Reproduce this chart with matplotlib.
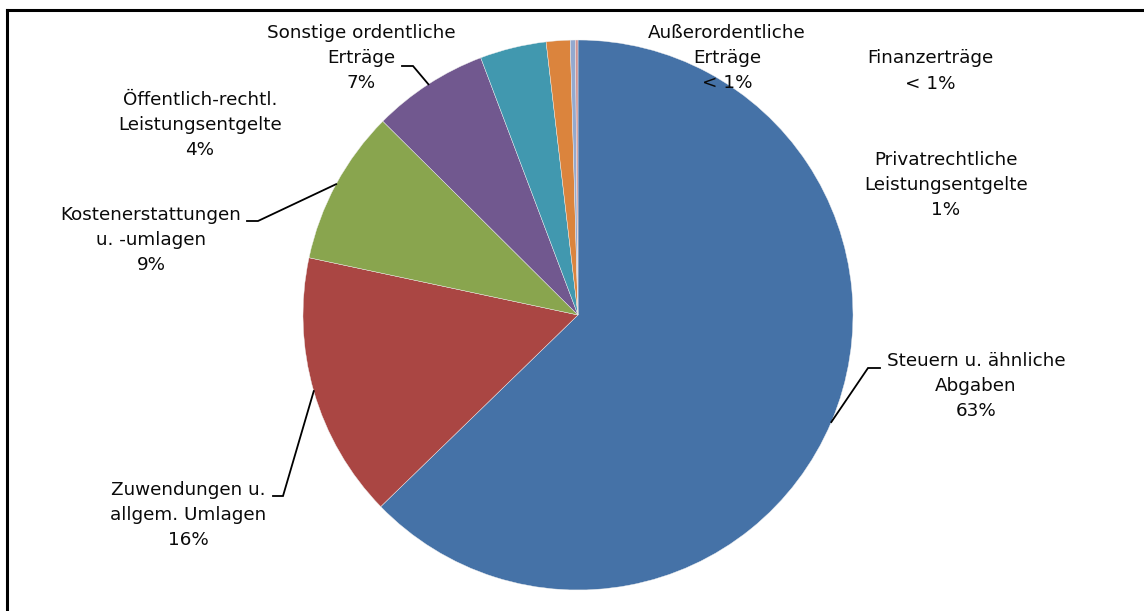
import numpy as np
import matplotlib.pyplot as plt
from matplotlib.lines import Line2D

# shares in percent, clockwise from 12 o'clock
categories = ['Steuern u. ähnliche\nAbgaben',
              'Zuwendungen u.\nallgem. Umlagen',
              'Kostenerstattungen\nu. -umlagen',
              'Sonstige ordentliche\nErträge',
              'Öffentlich-rechtl.\nLeistungsentgelte',
              'Privatrechtliche\nLeistungsentgelte',
              'Außerordentliche\nErträge',
              'Finanzerträge']
values = [62.7, 15.6, 9.1, 6.8, 3.9, 1.4, 0.3, 0.15]
pct_labels = ['63%', '16%', '9%', '7%', '4%', '1%', '< 1%', '< 1%']
colors = ['#4572A7', '#AA4643', '#89A54E', '#71588F', '#4198AF', '#DB843D',
          '#93A9CF', '#D19392']

W, H = 1144, 611
cx, cy, R = 578, 315, 275


def px(x, y):
    # pixel position -> data coords of the pie axes
    return (x - cx) / R, (cy - y) / R


fig = plt.figure(figsize=(W / 100, H / 100), dpi=100)
ax = fig.add_axes([0, 0, 1, 1])

wedges, _ = ax.pie(values, colors=colors, startangle=90, counterclock=False,
                   radius=1, wedgeprops=dict(edgecolor='#f0f0f0', linewidth=0.3))
ax.set_xlim(-cx / R, (W - cx) / R)
ax.set_ylim(-(H - cy) / R, cy / R)
ax.set_aspect('auto')
ax.axis('off')

# label centres (pixels) and leader stubs (stub start x, stub end x, y)
label_pos = [(976, 386), (188, 515), (151, 240), (361, 58), (200, 125),
             (946, 185), (727, 58), (930, 71)]
leaders = {0: (880, 868, 368), 1: (273, 283, 496), 2: (247, 258, 221), 3: (402, 413, 66)}

for i, (lab, pct) in enumerate(zip(categories, pct_labels)):
    x, y = px(*label_pos[i])
    ax.text(x, y, lab + '\n' + pct, ha='center', va='center', fontsize=13.2,
            linespacing=1.52, color='#0a0a0a', family='DejaVu Sans')
    if i in leaders:
        w = wedges[i]
        mid = np.deg2rad((w.theta1 + w.theta2) / 2)
        ex, ey = np.cos(mid), np.sin(mid)
        sx0, sx1, sy = leaders[i]
        a = px(sx0, sy)
        b = px(sx1, sy)
        ax.plot([a[0], b[0], ex], [a[1], b[1], ey], color='black', lw=1.3,
                solid_joinstyle='miter')

# chart frame (only top and left edges fall inside the picture)
fig.add_artist(Line2D([7 / W, 7 / W], [0, 1 - 10 / H], color='black', lw=2.2,
                      transform=fig.transFigure))
fig.add_artist(Line2D([7 / W, 1], [1 - 10 / H, 1 - 10 / H], color='black', lw=2.2,
                      transform=fig.transFigure))

fig.savefig('out.png', dpi=100, facecolor='white')
